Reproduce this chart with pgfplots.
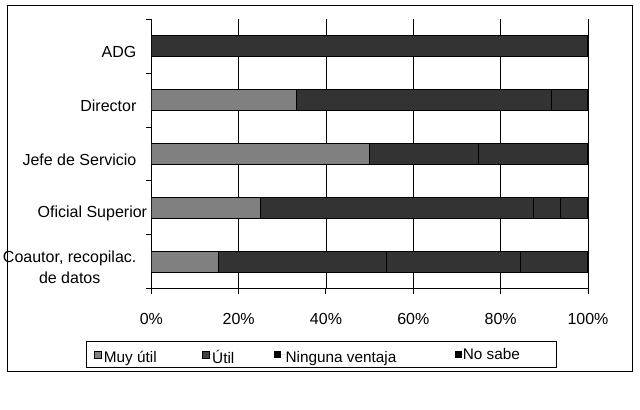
\documentclass[border=0pt]{standalone}
\usepackage{fontspec}
\setmainfont{Liberation Sans}
\usepackage{pgfplots}
\pgfplotsset{compat=1.18}
\definecolor{muy}{HTML}{808080}
\definecolor{util}{HTML}{333333}
\definecolor{utilleg}{HTML}{404040}
\begin{document}
\begin{tikzpicture}
\useasboundingbox (0,0) rectangle (480pt,307.5pt);
\draw[line width=0.75pt] (5.25pt,28.5pt) rectangle (474pt,303pt);
\begin{axis}[
  at={(113.5pt,91.1pt)}, anchor=south west,
  width=327.5pt, height=201.9pt, scale only axis,
  xbar stacked, bar width=15.75pt,
  xmin=0, xmax=100, ymin=-0.5, ymax=4.5,
  axis x line*=bottom, axis y line*=left,
  axis line style={-, line width=0.75pt},
  xtick={0,20,40,60,80,100},
  xticklabels={0\%,20\%,40\%,60\%,80\%,100\%},
  xmajorgrids, grid style={black, line width=0.6pt},
  ytick={-0.5,0.5,1.5,2.5,3.5,4.5},
  yticklabels={},
  extra y ticks={0,1,2,3,4},
  extra y tick labels={{Coautor, recopilac.\\de datos},{Oficial Superior\hspace*{-8pt}},{Jefe de Servicio},{Director},{ADG}},
  extra y tick style={tick style={draw=none}, grid=none},
  tick align=outside,
  major tick length=4pt,
  tick style={black, line width=0.75pt},
  tick label style={font=\fontsize{12}{16}\selectfont},
  yticklabel style={align=center, anchor=east, inner sep=0pt, xshift=-7pt, yshift=-4.5pt},
  xticklabel style={yshift=-11pt},
  legend columns=4,
  legend style={at={(-0.1495,-0.194)}, anchor=north west, draw=black, line width=0.75pt,
    inner xsep=5.25pt, inner ysep=5pt, column sep=0pt,
    font=\fontsize{11.5}{13}\selectfont,
    nodes={inner sep=0pt}},
  every axis plot/.append style={draw=black, line width=0.8pt},
]
\addplot[fill=muy, legend image code/.code={\draw[fill=muy,draw=black,line width=0.5pt] (0pt,-2.6pt) rectangle (5.25pt,2.6pt); \path[draw=none] (0pt,0pt) -- (7.5pt,0pt);}]
  coordinates {(15.38,0) (25,1) (50,2) (33.33,3) (0,4)};
\addplot[fill=util, legend image code/.code={\draw[fill=utilleg,draw=black,line width=0.5pt] (0pt,-2.6pt) rectangle (5.25pt,2.6pt); \path[draw=none] (0pt,0pt) -- (7.5pt,0pt);}]
  coordinates {(38.46,0) (62.5,1) (25,2) (58.34,3) (100,4)};
\addplot[fill=util, legend image code/.code={\fill[black,draw=none] (0pt,-2.6pt) rectangle (5.25pt,2.6pt); \path[draw=none] (0pt,0pt) -- (9pt,0pt);}]
  coordinates {(30.77,0) (6.25,1) (25,2) (0,3) (0,4)};
\addplot[fill=util, legend image code/.code={\fill[black,draw=none] (0pt,-2.6pt) rectangle (5.25pt,2.6pt); \path[draw=none] (0pt,0pt) -- (6pt,0pt);}]
  coordinates {(15.39,0) (6.25,1) (0,2) (8.33,3) (0,4)};
\addlegendentry{\makebox[73.5pt][l]{\raisebox{-5pt}{Muy útil}}}
\addlegendentry{\makebox[46pt][l]{\raisebox{-5pt}{Útil}}}
\addlegendentry{\makebox[127pt][l]{\raisebox{-5pt}{Ninguna ventaja}}}
\addlegendentry{\makebox[65pt][l]{No sabe}}
\end{axis}
\end{tikzpicture}
\end{document}
